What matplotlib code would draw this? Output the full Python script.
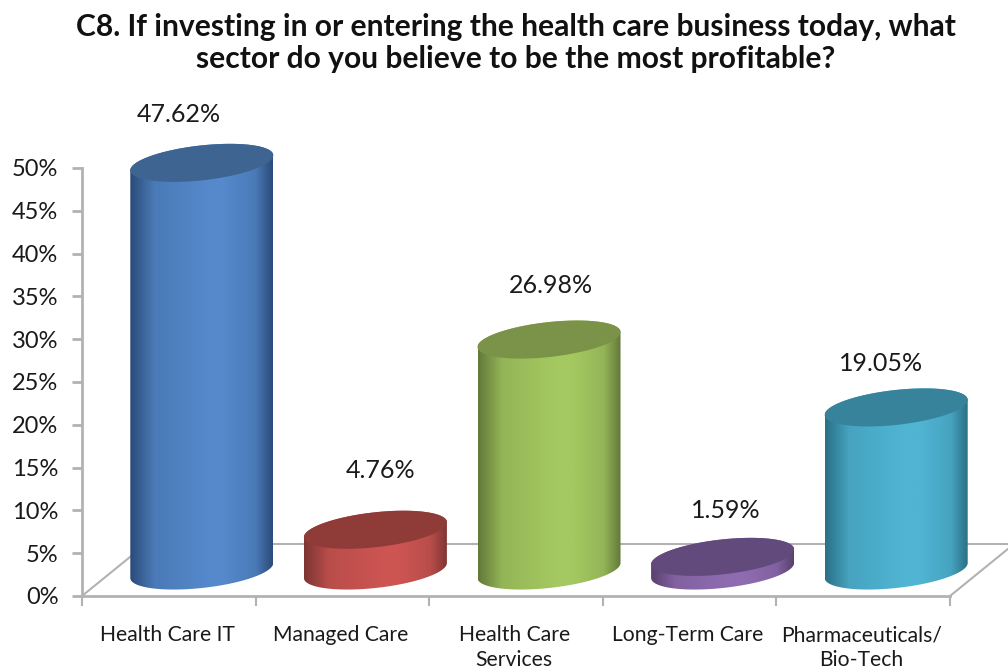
import numpy as np
import matplotlib
matplotlib.use('Agg')
import matplotlib.pyplot as plt
from matplotlib.colors import LinearSegmentedColormap, to_rgb
from matplotlib.patches import Polygon

categories = ['Health Care IT', 'Managed Care', 'Health Care\nServices', 'Long-Term Care', 'Pharmaceuticals/\nBio-Tech']
values = [47.62, 4.76, 26.98, 1.59, 19.05]
yticks = [0, 5, 10, 15, 20, 25, 30, 35, 40, 45, 50]

# edge, middle, cap colours of each cylinder
edge_colors = ['#2b4b78', '#7d3533', '#62793a', '#59416f', '#2a7087']
mid_colors = ['#5589cc', '#cd5552', '#a5c961', '#8f6cb1', '#50b5d3']
cap_colors = ['#3e6492', '#8f3b38', '#7b9249', '#624a7d', '#37839b']
label_shift_px = [(10, 48), (38, 59), (35, 54), (36, 46), (18, 44)]

plt.rcParams['font.family'] = ['Lato', 'DejaVu Sans']

fig = plt.figure(figsize=(10.08, 6.68), dpi=100, facecolor='white')
ax = fig.add_axes([82 / 1008, 72 / 668, 868 / 1008, 428 / 668])
ax.set_xlim(0, 5)
ax.set_ylim(0, 50)

px_x = 868 / 5
px_y = 428 / 50
grey = '#b2b2b2'

# floor of the 3d box
depth_x = 64 / px_x
depth_y = 52 / px_y
ax.plot([0, depth_x], [0, depth_y], color=grey, lw=1.5, clip_on=False, zorder=1)
ax.plot([depth_x, 5 + depth_x], [depth_y, depth_y], color=grey, lw=1.5, clip_on=False, zorder=1)
ax.plot([5, 5 + depth_x], [0, depth_y], color=grey, lw=1.5, clip_on=False, zorder=1)

half_w = 71.5 / px_x
tilt = 7.5 / px_y
half_h = 17.5 / px_y
base = 25.5 / px_y
shift_x = 33 / px_x
t_low = np.linspace(np.pi, 2 * np.pi, 80)
t_up = np.linspace(0, np.pi, 80)


def ellipse_xy(cx, cy, t):
    return cx + half_w * np.cos(t), cy + tilt * np.cos(t) + half_h * np.sin(t)


for i, v in enumerate(values):
    cx = i + 0.5 + shift_x
    top = base + v
    x1, y1 = ellipse_xy(cx, base, t_low)
    x2, y2 = ellipse_xy(cx, top, t_up)
    body = Polygon(np.column_stack([np.r_[x1, x2], np.r_[y1, y2]]), closed=True,
                   transform=ax.transData, facecolor='none', edgecolor='none')
    ax.add_patch(body)
    edge = np.array(to_rgb(edge_colors[i]))
    mid = np.array(to_rgb(mid_colors[i]))
    shade = 0.25 * edge + 0.75 * mid
    cmap = LinearSegmentedColormap.from_list('c', [(0, edge), (0.17, shade), (0.55, mid),
                                                   (0.66, mid), (0.88, shade), (1, edge)])
    grad = np.linspace(0, 1, 256).reshape(1, -1)
    im = ax.imshow(grad, cmap=cmap, aspect='auto', zorder=2,
                   extent=[cx - half_w, cx + half_w, 0, top + 5])
    im.set_clip_box(fig.bbox)
    im.set_clip_path(body)
    xc, yc = ellipse_xy(cx, top, np.r_[t_low, t_up])
    ax.fill(xc, yc, color=cap_colors[i], lw=0, clip_on=False, zorder=3)
    dx, dy = label_shift_px[i]
    ax.annotate('%.2f%%' % v, xy=(i + 0.5, top), xytext=(dx * 0.72, dy * 0.72),
                textcoords='offset points', ha='center', va='center', fontsize=18,
                color='#1a1a1a', annotation_clip=False, zorder=4)

ax.set_xlim(0, 5)
ax.set_ylim(0, 50)

for s in ['top', 'right']:
    ax.spines[s].set_visible(False)
for s in ['left', 'bottom']:
    ax.spines[s].set_color(grey)
    ax.spines[s].set_linewidth(2)

ax.set_yticks(yticks)
ax.set_yticklabels(['%d%%' % t for t in yticks], fontsize=17, color='#1a1a1a')
ax.tick_params(axis='y', length=7, width=2, color=grey, pad=10)
ax.set_xticks(range(6))
ax.set_xticklabels([])
ax.tick_params(axis='x', length=7, width=1.5, color=grey)
ax.set_xticks(np.arange(5) + 0.49, minor=True)
ax.set_xticklabels(categories, minor=True, fontsize=15.2, color='#1a1a1a', linespacing=1.3)
ax.tick_params(axis='x', which='minor', length=0, pad=21)

fig.text(516 / 1008, 1 - 43 / 668,
         'C8. If investing in or entering the health care business today, what\nsector do you believe to be the most profitable?',
         ha='center', va='center', fontsize=21.6, fontweight='bold', color='#111111', linespacing=1.15)

fig.savefig('out.png', dpi=100)
